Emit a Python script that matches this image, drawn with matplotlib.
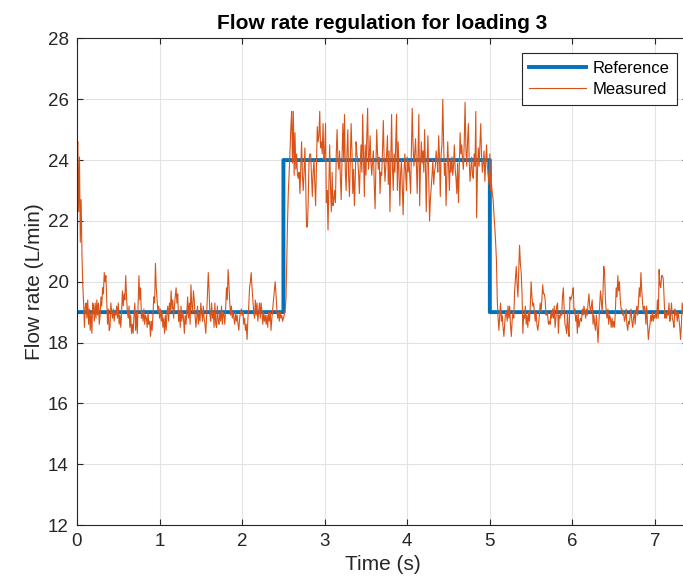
import numpy as np
import matplotlib
matplotlib.use('Agg')
import matplotlib.pyplot as plt

plt.rcParams['font.family'] = ['Liberation Sans', 'DejaVu Sans']

dt = 0.01
step_times = [2.5, 5.0]
ref_levels = [19, 24, 19]

# measured flow rate, one row per 0.1 s
measured = [
    24.3, 24.6, 22.3, 24.1, 21.3, 22.7, 20.9, 19.9, 19.3, 18.5,
    19.2, 19.3, 18.8, 19.4, 18.6, 19.1, 18.4, 19.0, 18.3, 19.3,
    19.2, 18.7, 19.3, 18.8, 19.4, 18.9, 19.3, 18.6, 18.9, 19.5,
    19.2, 19.8, 19.6, 20.3, 20.0, 20.2, 19.4, 18.6, 19.1, 18.4,
    18.5, 19.3, 19.0, 18.8, 19.1, 18.7, 19.0, 18.9, 19.2, 18.8,
    19.3, 18.6, 18.9, 18.5, 19.0, 19.7, 19.2, 19.6, 19.4, 20.2,
    19.5, 19.0, 18.8, 19.2, 18.5, 18.9, 18.3, 18.6, 18.3, 18.9,
    19.3, 18.4, 19.0, 18.3, 19.3, 20.2, 19.4, 19.8, 18.8, 19.0,
    18.7, 19.1, 18.6, 18.9, 18.8, 18.5, 19.0, 18.6, 18.7, 18.2,
    18.7, 18.4, 18.9, 19.5, 19.3, 20.6, 19.8, 19.4, 19.0, 19.2,
    18.8, 19.1, 18.7, 19.0, 18.5, 18.8, 18.3, 18.9, 18.4, 19.0,
    19.2, 18.7, 19.3, 19.0, 19.7, 19.1, 19.4, 18.8, 19.2, 19.5,
    19.8, 19.3, 19.6, 18.7, 19.0, 18.5, 19.2, 18.7, 19.0, 18.8,
    18.3, 18.9, 18.6, 19.0, 19.5, 18.8, 19.3, 18.6, 19.9, 19.2,
    19.0, 19.7, 19.4, 18.9, 18.5, 18.8, 19.2, 18.6, 19.0, 18.7,
    19.3, 19.0, 18.7, 19.2, 18.8, 18.6, 18.3, 18.9, 19.6, 20.3,
    19.7, 18.9, 18.7, 19.3, 18.8, 19.0, 18.5, 19.3, 18.6, 18.5,
    19.2, 18.7, 18.6, 19.0, 18.7, 19.2, 18.6, 19.0, 18.9, 18.6,
    19.1, 19.8, 19.4, 20.4, 19.9, 19.3, 18.9, 19.2, 18.8, 19.0,
    18.8, 18.6, 19.0, 18.7, 18.9, 18.6, 18.4, 18.8, 19.0, 19.1,
    18.9, 19.0, 18.6, 18.8, 18.4, 18.6, 18.1, 18.8, 19.2, 19.8,
    20.0, 20.3, 19.8, 19.4, 19.0, 18.8, 19.4, 18.9, 19.3, 18.7,
    19.0, 19.3, 18.8, 19.3, 19.0, 18.6, 19.0, 18.7, 18.9, 18.6,
    18.9, 18.5, 19.0, 18.7, 19.0, 18.4, 18.8, 19.1, 19.4, 19.7,
    20.0, 19.6, 19.1, 18.8, 19.0, 18.7, 19.0, 18.8, 18.9, 18.7,
    18.8, 18.9, 19.0, 19.4, 20.6, 22.0, 23.0, 23.6, 24.3, 25.1,
    25.6, 23.9, 25.6, 23.5, 24.9, 23.7, 24.2, 23.5, 23.4, 23.6,
    22.9, 23.8, 24.6, 23.5, 23.0, 23.6, 24.4, 23.2, 21.8, 21.8,
    22.6, 24.0, 24.2, 24.2, 23.5, 22.8, 23.6, 24.0, 23.2, 22.5,
    23.8, 25.1, 24.6, 24.8, 25.6, 24.4, 24.6, 24.2, 25.2, 24.0,
    24.2, 25.2, 22.6, 23.0, 21.7, 23.2, 24.5, 23.1, 22.3, 23.6,
    22.5, 22.7, 23.0, 22.6, 24.2, 25.0, 24.0, 23.7, 24.3, 23.4,
    22.7, 24.1, 25.2, 24.0, 25.5, 23.6, 23.0, 24.3, 25.0, 23.4,
    22.8, 24.0, 25.2, 24.3, 22.9, 23.7, 22.5, 23.4, 24.6, 24.2,
    24.0, 23.6, 22.9, 23.8, 24.5, 23.6, 25.5, 24.1, 22.8, 24.5,
    23.5, 24.8, 25.7, 23.7, 24.1, 24.8, 23.9, 23.5, 24.0, 24.3,
    23.2, 22.4, 23.8, 25.0, 24.2, 23.7, 24.1, 22.9, 23.6, 23.5,
    24.3, 25.3, 24.0, 23.3, 23.8, 24.2, 24.8, 23.2, 24.3, 22.3,
    24.0, 25.5, 23.8, 23.0, 24.2, 23.6, 24.6, 25.5, 23.0, 24.6,
    23.5, 22.5, 23.6, 24.0, 23.1, 22.2, 23.5, 24.2, 23.6, 23.0,
    24.1, 23.6, 24.0, 23.5, 22.9, 24.3, 25.7, 24.5, 23.8, 24.2,
    24.7, 23.9, 22.9, 24.2, 25.5, 22.5, 23.8, 24.6, 23.9, 24.3,
    23.6, 25.0, 23.8, 22.3, 23.9, 24.8, 23.4, 22.0, 22.7, 23.1,
    23.5, 24.0, 23.2, 23.6, 23.8, 24.3, 24.0, 23.6, 24.8, 24.1,
    22.8, 24.2, 24.5, 26.0, 24.6, 23.5, 23.9, 22.5, 23.6, 24.6,
    23.8, 23.0, 24.0, 23.6, 24.1, 23.5, 23.8, 24.5, 23.7, 23.4,
    22.9, 23.9, 22.6, 23.8, 24.9, 24.2, 24.5, 24.0, 23.7, 24.6,
    25.9, 24.4, 23.8, 24.6, 25.2, 24.0, 23.3, 23.7, 24.1, 23.5,
    23.4, 24.2, 23.8, 25.6, 22.1, 23.6, 24.4, 23.8, 24.5, 25.2,
    24.1, 23.6, 23.9, 24.3, 23.3, 23.9, 24.5, 23.8, 23.5, 23.2,
    24.2, 23.0, 23.2, 22.9, 22.7, 22.2, 21.8, 21.3, 20.7, 19.4,
    18.8, 18.4, 18.9, 19.3, 18.7, 18.9, 18.5, 18.2, 18.6, 19.0,
    19.0, 18.7, 19.2, 18.8, 19.2, 18.6, 18.2, 18.7, 19.0, 18.8,
    19.7, 20.1, 20.5, 19.9, 19.5, 20.4, 21.2, 20.6, 20.3, 19.6,
    18.3, 18.9, 18.8, 19.2, 18.6, 18.9, 18.5, 19.0, 18.7, 19.2,
    20.0, 19.5, 19.2, 19.3, 19.0, 18.7, 19.0, 18.6, 18.4, 18.6,
    18.9, 19.3, 19.0, 19.4, 19.9, 19.6, 19.6, 19.4, 18.9, 19.0,
    18.9, 18.6, 18.7, 18.6, 19.0, 18.8, 19.1, 18.8, 19.2, 18.5,
    18.8, 19.2, 19.3, 18.3, 18.9, 18.8, 19.0, 18.9, 19.5, 19.8,
    19.1, 18.6, 18.5, 18.3, 19.0, 18.4, 18.2, 19.5, 19.4, 19.5,
    19.6, 19.8, 19.0, 19.1, 18.7, 18.9, 18.3, 19.0, 18.5, 18.7,
    18.8, 18.7, 19.1, 18.9, 19.2, 19.0, 18.8, 19.1, 18.9, 19.3,
    19.6, 19.2, 19.0, 19.2, 19.4, 18.6, 18.9, 18.6, 18.4, 18.9,
    18.5, 18.0, 18.6, 19.2, 19.7, 19.4, 19.0, 19.6, 20.5, 20.3,
    19.4, 19.0, 18.8, 19.1, 18.6, 18.9, 18.8, 18.5, 18.8, 18.5,
    18.7, 18.5, 19.0, 19.8, 19.5, 20.2, 19.7, 20.0, 19.4, 19.1,
    19.1, 18.9, 19.0, 18.7, 18.8, 19.1, 18.6, 18.4, 18.7, 18.6,
    18.9, 19.1, 18.7, 18.5, 18.8, 19.0, 18.6, 19.0, 19.2, 18.9,
    19.3, 19.8, 19.5, 20.3, 19.7, 19.3, 19.0, 19.2, 19.1, 18.6,
    19.2, 18.6, 18.1, 18.4, 18.6, 18.9, 18.7, 19.0, 18.7, 18.9,
    18.8, 19.0, 18.8, 19.4, 18.8, 20.4, 19.9, 19.8, 20.2, 20.2,
    20.1, 19.5, 18.8, 19.0, 18.8, 19.0, 18.9, 19.3, 18.7, 18.9,
    19.3, 18.8, 18.7, 18.5, 19.1, 18.9, 19.0, 18.7, 19.0, 18.8,
    18.5, 18.1, 18.6, 19.3, 19.0, 18.9,
]

t = np.arange(len(measured)) * dt
ref = np.full_like(t, ref_levels[0], dtype=float)
ref[t >= step_times[0] - 1e-9] = ref_levels[1]
ref[t >= step_times[1] - 1e-9] = ref_levels[2]
t_ref = np.append(t, 7.45)
ref = np.append(ref, ref_levels[2])

fig = plt.figure(figsize=(6.83, 5.86), dpi=100)
ax = fig.add_axes([77/683, 61/586, 611/683, 486.6/586])

axc = '#262626'
ax.step(t_ref, ref, where='post', color='#0072BD', lw=2.8, label='Reference')
ax.plot(t, measured, color='#D95319', lw=0.8, label='Measured')

ax.set_xlim(0, 7.4)
ax.set_ylim(12, 28)
ax.set_xticks(range(0, 8))
ax.set_yticks(range(12, 29, 2))
ax.grid(True, color='#e3e3e3', lw=0.8)
ax.set_axisbelow(True)
ax.tick_params(direction='in', top=True, right=True, length=4, width=0.8,
               colors=axc, labelsize=13.5, pad=6)
for s in ax.spines.values():
    s.set_color(axc)
    s.set_linewidth(0.8)

ax.set_xlabel('Time (s)', fontsize=15, color=axc, labelpad=3)
ax.set_ylabel('Flow rate (L/min)', fontsize=15, color=axc, labelpad=3)
ax.set_title('Flow rate regulation for loading 3', fontsize=15,
             fontweight='bold', color='black', pad=7)

leg = ax.legend(loc='upper right', bbox_to_anchor=(0.982, 0.969),
                fontsize=12, fancybox=False, framealpha=1,
                edgecolor=axc, handlelength=3.4, borderpad=0.45,
                labelspacing=0.38, handletextpad=0.4, borderaxespad=0)
leg.get_frame().set_linewidth(0.8)

fig.savefig('out.png', dpi=100)
